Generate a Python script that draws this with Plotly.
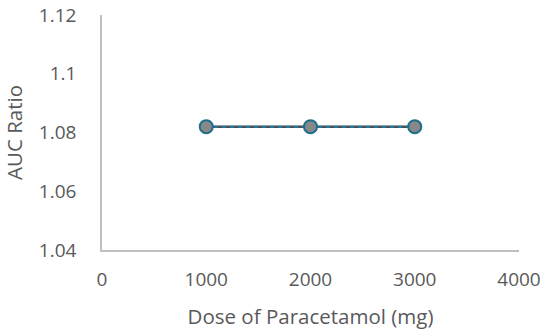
import plotly.graph_objects as go

# dados
dose_mg = [1000, 2000, 3000]
auc_ratio = [1.082, 1.082, 1.082]

x_ticks = [0, 1000, 2000, 3000, 4000]
y_ticks = [1.04, 1.06, 1.08, 1.1, 1.12]
y_tick_text = ["1.04", "1.06", "1.08", "1.1", "1.12"]

fig = go.Figure()

# linha sólida escura por baixo
fig.add_trace(go.Scatter(x=dose_mg, y=auc_ratio, mode='lines',
                         line=dict(color='#4a4f55', width=2.5),
                         showlegend=False, hoverinfo='skip'))
# tracejado azul por cima, com marcadores
fig.add_trace(go.Scatter(x=dose_mg, y=auc_ratio, mode='lines+markers',
                         line=dict(color='#1f7fa8', width=2, dash='4px,4px'),
                         marker=dict(size=13, color='#888888',
                                     line=dict(color='#1f6e8c', width=2)),
                         showlegend=False))

fonte = dict(family='Open Sans, Liberation Sans, sans-serif', size=19, color='#595959')

fig.update_layout(
    width=550, height=336,
    margin=dict(l=102, r=31, t=15, b=86),
    paper_bgcolor='white', plot_bgcolor='white',
    font=fonte,
    xaxis=dict(range=[0, 4000], tickvals=x_ticks, showgrid=False, zeroline=False,
               showline=True, linecolor='#bfbfbf', linewidth=1.5,
               ticks='', ticklabelstandoff=11, automargin=False,
               ticklabeloverflow='allow',
               title=dict(text='Dose of Paracetamol (mg)', standoff=19,
                          font=dict(size=20.5))),
    yaxis=dict(range=[1.04, 1.12], tickvals=y_ticks, ticktext=y_tick_text,
               showgrid=False, zeroline=False,
               showline=True, linecolor='#bfbfbf', linewidth=1.5,
               ticks='', ticklabelstandoff=20, automargin=False,
               ticklabeloverflow='allow',
               title=dict(text='AUC Ratio', standoff=13, font=dict(size=20.5))),
)

# tira a margem padrão do body para o gráfico começar no canto
fig.write_html("out.html", config={'displayModeBar': False},
               post_script="document.body.style.margin='0';")
